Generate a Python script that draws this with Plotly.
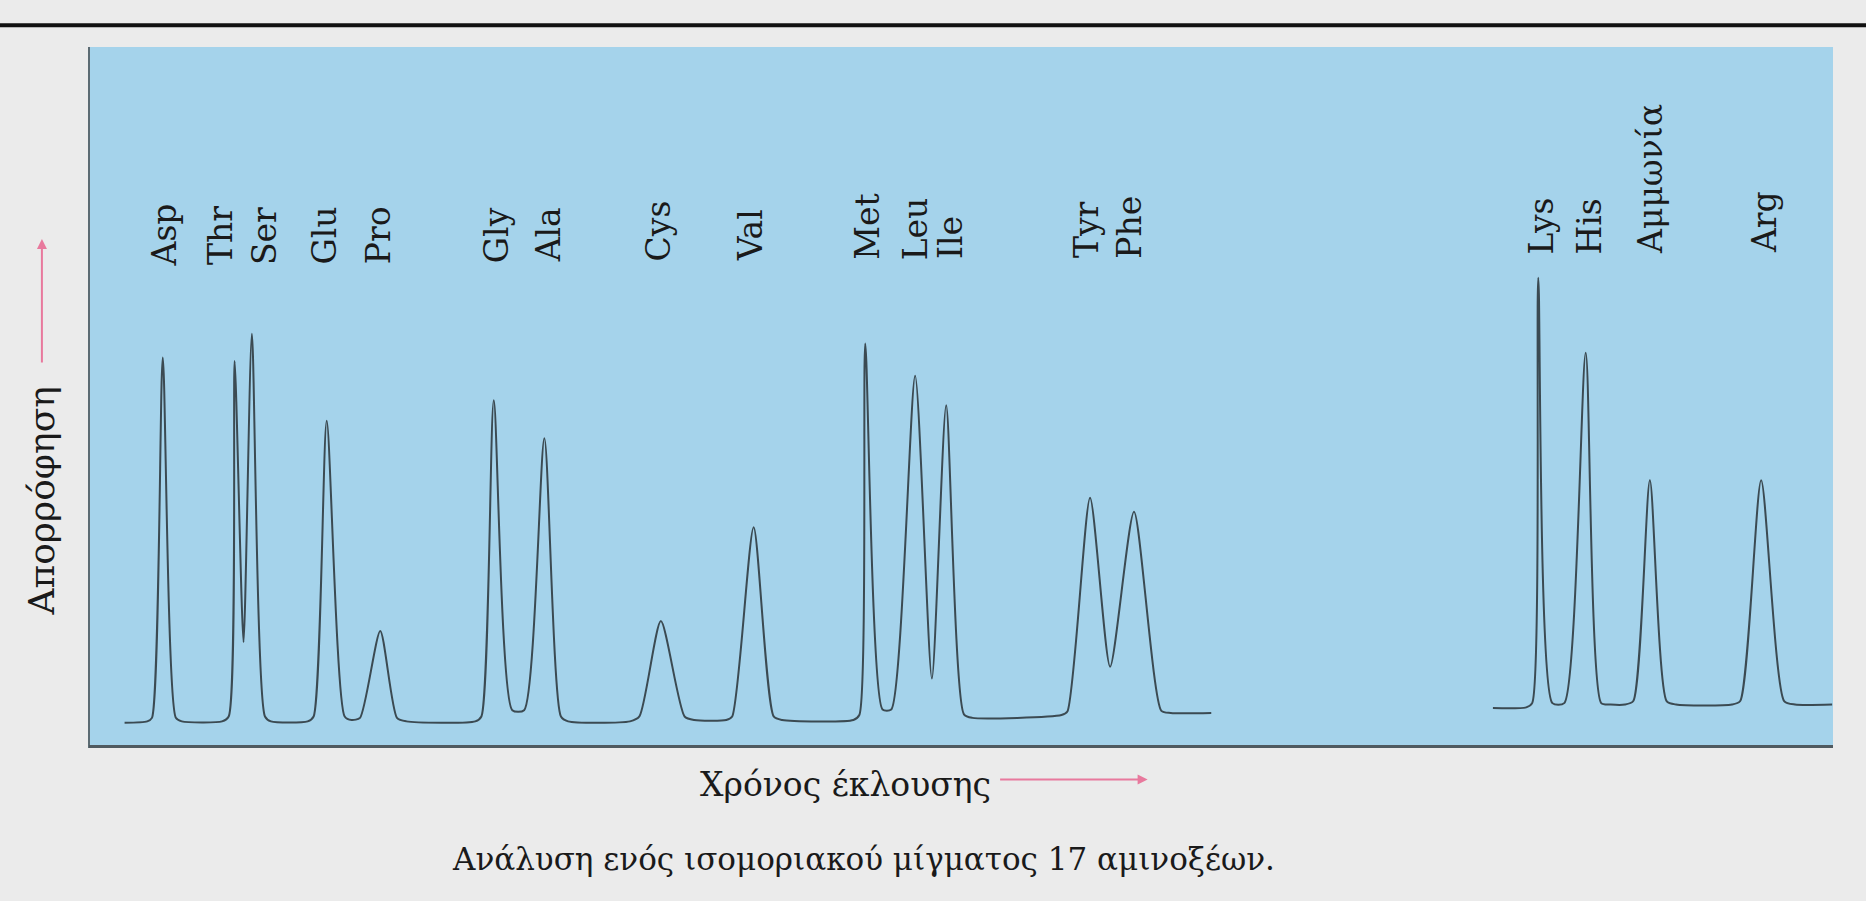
import plotly.graph_objects as go

# chromatogram trace, first run (elution time in arbitrary units, absorbance 0-1)
time_a = [2.04, 3.34, 3.61, 4.23, 4.98, 5.32, 7.63, 8.01, 8.35, 8.86, 9.34, 10.09, 10.43,
          12.54, 12.88, 13.63, 14.66, 15.06, 15.54, 16.70, 17.66, 18.20, 22.15, 22.50,
          23.21, 24.27, 24.95, 26.11, 27.06, 27.47, 31.02, 31.56, 32.79, 34.15, 34.70,
          36.54, 36.88, 38.11, 39.26, 39.74, 43.83, 44.17, 44.51, 45.50, 46.00, 47.37,
          48.33, 49.15, 50.17, 50.65, 55.76, 56.10, 57.40, 58.55, 59.92, 61.49, 62.03, 64.35]
absorb_a = [0.036, 0.038, 0.043, 0.557, 0.043, 0.038, 0.038, 0.045, 0.552, 0.151, 0.591, 0.045, 0.038,
            0.038, 0.045, 0.467, 0.045, 0.040, 0.043, 0.167, 0.043, 0.038, 0.038, 0.045,
            0.496, 0.054, 0.054, 0.442, 0.045, 0.038, 0.038, 0.045, 0.181, 0.045, 0.040,
            0.040, 0.045, 0.315, 0.045, 0.040, 0.040, 0.047, 0.577, 0.055, 0.055, 0.531,
            0.099, 0.489, 0.048, 0.043, 0.047, 0.052, 0.357, 0.116, 0.337, 0.053, 0.050, 0.050]

# second run (basic amino acids)
time_b = [80.50, 82.41, 82.75, 83.10, 83.91, 84.59, 85.82, 86.71, 87.25, 88.07, 88.55,
          89.50, 90.46, 91.00, 94.21, 94.68, 95.88, 97.20, 97.82, 99.95]
absorb_b = [0.057, 0.058, 0.064, 0.671, 0.064, 0.064, 0.564, 0.064, 0.062, 0.062, 0.067,
            0.382, 0.067, 0.062, 0.062, 0.067, 0.382, 0.067, 0.062, 0.062]

# peak labels and where they sit along the time axis
peak_names = ["Asp", "Thr", "Ser", "Glu", "Pro", "Gly", "Ala", "Cys", "Val", "Met", "Leu",
              "Ile", "Tyr", "Phe", "Lys", "His", "Αμμωνία", "Arg"]
label_time = [4.30, 7.57, 10.03, 13.53, 16.57, 23.34, 26.32, 32.63, 37.90, 44.67, 47.36,
              49.37, 57.17, 59.69, 83.26, 86.01, 89.56, 96.04]

assert len(time_a) == len(absorb_a) and len(time_b) == len(absorb_b)

SERIF = "DejaVu Serif"
TEXT = "#1a1a1a"
PINK = "#e8799d"
LINE = "#3b4a52"

fig = go.Figure()
for t, a in [(time_a, absorb_a), (time_b, absorb_b)]:
    fig.add_trace(go.Scatter(
        x=t, y=a, mode="lines",
        line={"color": LINE, "width": 2, "shape": "spline", "smoothing": 0.65},
        hoverinfo="skip",
    ))

annotations = []
for name, t in zip(peak_names, label_time):
    annotations.append(dict(
        x=t, y=0.684 + 0.0002 * t, xref="x", yref="y",
        text=name, showarrow=False, textangle=-90,
        xanchor="center", yanchor="bottom",
        font={"family": SERIF, "size": 33, "color": TEXT},
    ))

# axis titles with their arrows, and the caption
annotations += [
    dict(x=-0.027, y=0.353, xref="paper", yref="paper", text="Απορρόφηση",
         showarrow=False, textangle=-90, xanchor="center", yanchor="middle",
         font={"family": SERIF, "size": 36, "color": TEXT}),
    dict(x=-0.027, y=0.726, xref="paper", yref="paper", text="", showarrow=True,
         ax=0, ay=125, arrowhead=2, arrowsize=1, arrowwidth=2, arrowcolor=PINK),
    dict(x=0.434, y=-0.052, xref="paper", yref="paper", text="Χρόνος έκλουσης",
         showarrow=False, xanchor="center", yanchor="middle",
         font={"family": SERIF, "size": 33, "color": TEXT}),
    dict(x=0.607, y=-0.045, xref="paper", yref="paper", text="", showarrow=True,
         ax=-149, ay=0, arrowhead=2, arrowsize=1, arrowwidth=2, arrowcolor=PINK),
    dict(x=0.444, y=-0.158, xref="paper", yref="paper",
         text="Ανάλυση ενός ισομοριακού μίγματος 17 αμινοξέων.",
         showarrow=False, xanchor="center", yanchor="middle",
         font={"family": SERIF, "size": 31, "color": TEXT}),
]

shapes = [
    # page rule above the figure
    dict(type="line", xref="paper", yref="paper", x0=-0.06, x1=1.03, y0=1.031, y1=1.031,
         line={"color": "#111111", "width": 4}),
    # left edge and baseline of the panel
    dict(type="line", xref="paper", yref="paper", x0=0, x1=0, y0=0, y1=1,
         line={"color": "#5b6b73", "width": 2}),
    dict(type="line", xref="paper", yref="paper", x0=0, x1=1, y0=0.002, y1=0.002,
         line={"color": "#4f5a60", "width": 3}),
]

fig.update_layout(
    width=1866, height=901,
    margin={"l": 89, "r": 33, "t": 47, "b": 153},
    paper_bgcolor="#ebebeb",
    plot_bgcolor="#a5d3eb",
    showlegend=False,
    xaxis={"range": [0, 100], "visible": False, "fixedrange": True},
    yaxis={"range": [0, 1], "visible": False, "fixedrange": True},
    annotations=annotations,
    shapes=shapes,
)

# drop the browser's default page margin so the figure sits at the window corner
fig.write_html(
    "out.html",
    config={"displayModeBar": False},
    post_script="document.body.style.margin='0';document.body.style.background='#ebebeb';",
)
